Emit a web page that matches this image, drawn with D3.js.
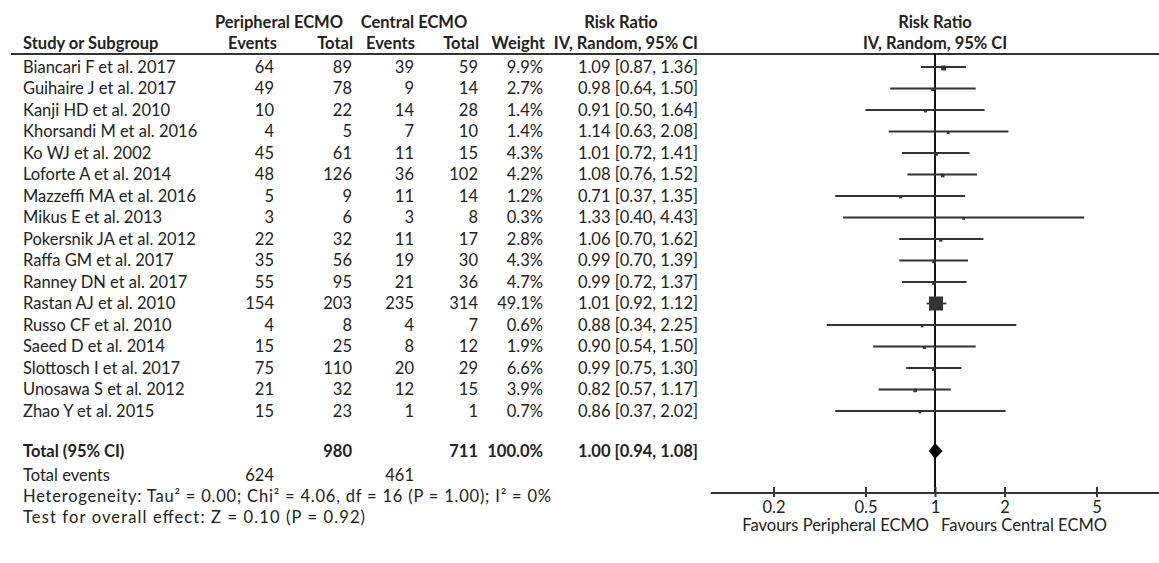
<!DOCTYPE html>
<html><head><meta charset="utf-8">
<script src="https://cdn.jsdelivr.net/npm/d3@7"></script>
<style>
html,body{margin:0;padding:0;background:#fff;}
svg text{font-family:Lato,"Open Sans",sans-serif;fill:#222;}
</style></head>
<body><svg id="c" width="1159" height="563"></svg>
<script>
const studies = ["Biancari F et al. 2017","Guihaire J et al. 2017","Kanji HD et al. 2010","Khorsandi M et al. 2016","Ko WJ et al. 2002","Loforte A et al. 2014","Mazzeffi MA et al. 2016","Mikus E et al. 2013","Pokersnik JA et al. 2012","Raffa GM et al. 2017","Ranney DN et al. 2017","Rastan AJ et al. 2010","Russo CF et al. 2010","Saeed D et al. 2014","Slottosch I et al. 2017","Unosawa S et al. 2012","Zhao Y et al. 2015"];
const periEvents = [64,49,10,4,45,48,5,3,22,35,55,154,4,15,75,21,15];
const periTotal  = [89,78,22,5,61,126,9,6,32,56,95,203,8,25,110,32,23];
const centEvents = [39,9,14,7,11,36,11,3,11,19,21,235,4,8,20,12,1];
const centTotal  = [59,14,28,10,15,102,14,8,17,30,36,314,7,12,29,15,1];
const weights    = [9.9,2.7,1.4,1.4,4.3,4.2,1.2,0.3,2.8,4.3,4.7,49.1,0.6,1.9,6.6,3.9,0.7];
const rr   = [1.09,0.98,0.91,1.14,1.01,1.08,0.71,1.33,1.06,0.99,0.99,1.01,0.88,0.90,0.99,0.82,0.86];
const rrLo = [0.87,0.64,0.50,0.63,0.72,0.76,0.37,0.40,0.70,0.70,0.72,0.92,0.34,0.54,0.75,0.57,0.37];
const rrHi = [1.36,1.50,1.64,2.08,1.41,1.52,1.35,4.43,1.62,1.39,1.37,1.12,2.25,1.50,1.30,1.17,2.02];
const total = {label:"Total (95% CI)", periTotal:980, centTotal:711, weight:"100.0%", rr:1.00, lo:0.94, hi:1.08};
const totalEvents = {peri:624, cent:461};
const footnotes = ["Heterogeneity: Tau\u00B2 = 0.00; Chi\u00B2 = 4.06, df = 16 (P = 1.00); I\u00B2 = 0%","Test for overall effect: Z = 0.10 (P = 0.92)"];
const tickValues = [0.2,0.5,1,2,5];
const tickLabels = ["0.2","0.5","1","2","5"];
const favours = ["Favours Peripheral ECMO","Favours Central ECMO"];

const svg = d3.select("#c");
svg.append("rect").attr("width",1159).attr("height",563).attr("fill","#fff");
const FS = 16.5;
const fmt2 = d3.format(".2f");
const fmtW = d => d.toFixed(1)+"%";

// layout
const col = {study:23, pe:274, pt:352, ce:414, ct:478, w:543, rr:698};
const footWidth = [528, 342];
const yRow = d3.scaleLinear().domain([0, studies.length-1]).range([67, 411]);
const yTotal = 451, yEvents = 475, yFoot = [496, 517];
const yHead1 = 22, yHead2 = 43, yRule = 54, yAxis = 493;
const x = d3.scaleLog().domain([0.1,10]).range([935-231, 935+231]);

function txt(g, s, xx, yy, anchor, bold, size){
  return g.append("text").attr("x",xx).attr("y",yy).attr("dy","0.36em")
    .attr("text-anchor",anchor||"start").attr("font-size",size||FS)
    .attr("font-weight",bold?"bold":"normal").text(s);
}

const head = svg.append("g");
txt(head,"Peripheral ECMO",279,yHead1,"middle",true);
txt(head,"Central ECMO",414,yHead1,"middle",true);
txt(head,"Risk Ratio",621,yHead1,"middle",true);
txt(head,"Risk Ratio",x(1),yHead1,"middle",true);
txt(head,"Study or Subgroup",col.study,yHead2,"start",true);
txt(head,"Events",col.pe+3,yHead2,"end",true);
txt(head,"Total",col.pt+1,yHead2,"end",true);
txt(head,"Events",col.ce+1,yHead2,"end",true);
txt(head,"Total",col.ct+1,yHead2,"end",true);
txt(head,"Weight",col.w+2,yHead2,"end",true);
txt(head,"IV, Random, 95% CI",col.rr,yHead2,"end",true);
txt(head,"IV, Random, 95% CI",x(1),yHead2,"middle",true);
head.append("line").attr("x1",11).attr("x2",1159).attr("y1",yRule).attr("y2",yRule)
  .attr("stroke","#333").attr("stroke-width",2.2);

// rows
const rows = svg.append("g");
studies.forEach((s,i)=>{
  const y = yRow(i);
  txt(rows,s,col.study,y,"start");
  txt(rows,periEvents[i],col.pe,y,"end");
  txt(rows,periTotal[i],col.pt,y,"end");
  txt(rows,centEvents[i],col.ce,y,"end");
  txt(rows,centTotal[i],col.ct,y,"end");
  txt(rows,fmtW(weights[i]),col.w,y,"end");
  txt(rows,`${fmt2(rr[i])} [${fmt2(rrLo[i])}, ${fmt2(rrHi[i])}]`,col.rr,y,"end");
});
txt(rows,total.label,col.study,yTotal,"start",true);
txt(rows,total.periTotal,col.pt,yTotal,"end",true);
txt(rows,total.centTotal,col.ct,yTotal,"end",true);
txt(rows,total.weight,col.w,yTotal,"end",true);
txt(rows,`${fmt2(total.rr)} [${fmt2(total.lo)}, ${fmt2(total.hi)}]`,col.rr,yTotal,"end",true);
txt(rows,"Total events",col.study,yEvents,"start");
txt(rows,totalEvents.peri,col.pe,yEvents,"end");
txt(rows,totalEvents.cent,col.ce,yEvents,"end");
footnotes.forEach((f,i)=>txt(rows,f,col.study,yFoot[i],"start")
  .attr("textLength",footWidth[i]).attr("lengthAdjust","spacing"));

// plot
const plot = svg.append("g");
plot.append("line").attr("x1",x(1)).attr("x2",x(1)).attr("y1",yRule).attr("y2",yAxis)
  .attr("stroke","#111").attr("stroke-width",2);
const sq = d3.scaleLinear().domain([0,49.1]).range([2.6,14]);
studies.forEach((s,i)=>{
  const y = yRow(i);
  plot.append("line").attr("x1",x(rrLo[i])).attr("x2",x(rrHi[i])).attr("y1",y).attr("y2",y)
    .attr("stroke","#333").attr("stroke-width",1.8);
  const side = sq(weights[i]);
  plot.append("rect").attr("x",x(rr[i])-side/2).attr("y",y-side/2+(side<6?1:0))
    .attr("width",side).attr("height",side).attr("fill","#333");
});
const dh = 8;
plot.append("path").attr("d",`M${x(total.lo)},${yTotal}L${x(total.rr)},${yTotal-dh}L${x(total.hi)},${yTotal}L${x(total.rr)},${yTotal+dh}Z`)
  .attr("fill","#000");

const axis = d3.axisBottom(x).tickValues(tickValues).tickFormat((d,i)=>tickLabels[i]).tickSize(4).tickPadding(4);
const ag = plot.append("g").attr("transform",`translate(0,${yAxis})`).call(axis);
ag.select(".domain").attr("d",`M${x(0.107)},0H1159`).attr("stroke","#333").attr("stroke-width",2);
ag.selectAll(".tick line").attr("y1",-6).attr("y2",4).attr("stroke","#333").attr("stroke-width",2);
ag.selectAll(".tick text").attr("font-size",FS).attr("font-family","Lato").attr("fill","#222");
txt(plot,favours[0],x(1)-6,525,"end");
txt(plot,favours[1],x(1)+6,525,"start");
</script></body></html>
